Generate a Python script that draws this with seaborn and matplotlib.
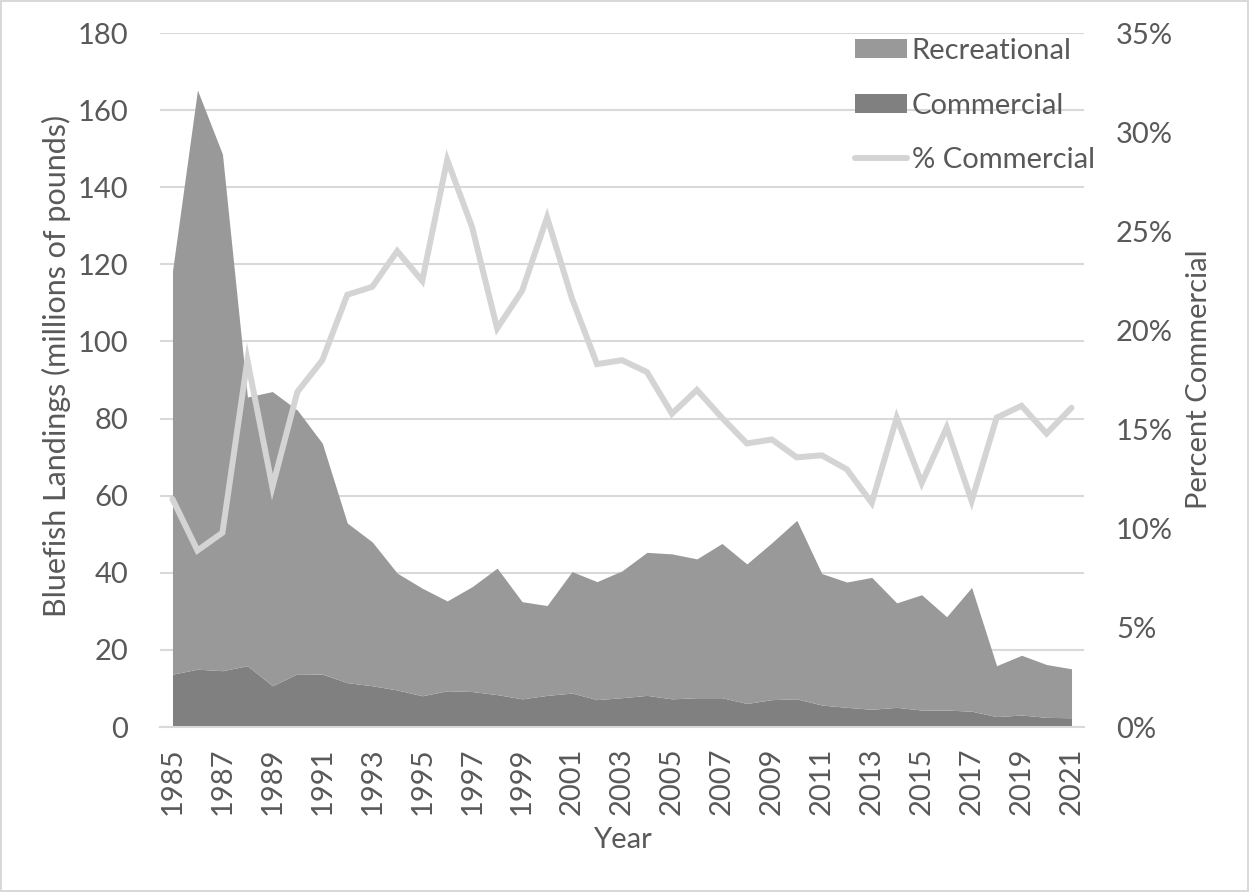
import matplotlib
matplotlib.use("Agg")
import matplotlib.pyplot as plt
import matplotlib.ticker as mticker
from matplotlib.patches import Patch
from matplotlib.lines import Line2D
import seaborn as sns
import pandas as pd

years = list(range(1985, 2022))
commercial = [13.7, 15.0, 14.6, 15.9, 10.7, 13.8, 13.7, 11.5, 10.7, 9.6,
              8.1, 9.4, 9.2, 8.4, 7.3, 8.2, 8.8, 7.1, 7.6, 8.2,
              7.3, 7.6, 7.6, 6.1, 7.1, 7.3, 5.7, 5.1, 4.6, 5.1,
              4.4, 4.4, 4.1, 2.7, 3.1, 2.5, 2.4]
recreational = [104.6, 150.2, 134.0, 69.7, 76.3, 68.4, 59.9, 41.4, 37.3, 30.3,
                27.9, 23.3, 27.2, 32.8, 25.2, 23.3, 31.5, 30.6, 32.9, 37.1,
                37.6, 36.0, 40.0, 36.2, 40.7, 46.3, 34.1, 32.5, 34.2, 27.1,
                29.9, 24.2, 32.1, 13.2, 15.5, 13.7, 12.7]
pct_commercial = [11.5, 8.9, 9.8, 18.5, 12.1, 16.9, 18.5, 21.8, 22.2, 24.0,
                  22.5, 28.6, 25.2, 20.1, 22.0, 25.7, 21.6, 18.3, 18.5, 17.9,
                  15.8, 17.0, 15.6, 14.3, 14.5, 13.6, 13.7, 13.0, 11.3, 15.6,
                  12.3, 15.1, 11.4, 15.6, 16.2, 14.8, 16.1]
year_labels = [str(y) for y in range(1985, 2022, 2)]
left_ticks = list(range(0, 181, 20))
right_ticks = list(range(0, 36, 5))

df = pd.DataFrame({"Year": years, "Commercial": commercial,
                   "Recreational": recreational, "Pct": pct_commercial})
df["Total"] = df["Commercial"] + df["Recreational"]

sns.set_style("white")
plt.rcParams["font.family"] = ["Lato", "DejaVu Sans"]
TXT = "#595959"
GRID = "#d9d9d9"
C_REC = "#999999"
C_COM = "#808080"
C_LINE = "#d4d4d4"
FS = 21

W, H = 1249, 892
fig = plt.figure(figsize=(W / 100, H / 100), dpi=100)
fig.patch.set_facecolor("white")
fig.patch.set_edgecolor(GRID)
fig.patch.set_linewidth(1.5)

L, R, T, B = 160, 1084, 33, 727
ax = fig.add_axes([L / W, 1 - B / H, (R - L) / W, (B - T) / H])

ax.fill_between(df["Year"], 0, df["Commercial"], color=C_COM, lw=0, zorder=2)
ax.fill_between(df["Year"], df["Commercial"], df["Total"], color=C_REC, lw=0, zorder=2)

ax.set_xlim(1984.5, 2021.5)
ax.set_ylim(0, 180)
ax.set_yticks(left_ticks)
ax.yaxis.grid(True, color=GRID, lw=1.5, zorder=0)
ax.set_axisbelow(True)
for s in ["top", "right", "left"]:
    ax.spines[s].set_visible(False)
ax.spines["bottom"].set_color(GRID)
ax.spines["bottom"].set_linewidth(1.5)
ax.spines["bottom"].set_zorder(3)

ax.set_xticks([int(y) for y in year_labels])
ax.set_xticklabels(year_labels, rotation=90)
ax.set_xticks([y + 0.5 for y in range(1984, 2022)], minor=True)
ax.tick_params(axis="x", which="major", length=0, pad=15, labelsize=FS, labelcolor=TXT)
ax.tick_params(axis="x", which="minor", length=8, width=1.5, color=GRID, direction="out")
ax.tick_params(axis="y", length=0, pad=23, labelsize=FS, labelcolor=TXT)
ax.set_xlabel("")
ax.set_ylabel("")

ax2 = ax.twinx()
sns.lineplot(x=df["Year"], y=df["Pct"], ax=ax2, color=C_LINE, lw=4.3,
             solid_joinstyle="miter", zorder=4, legend=False)
ax2.set_ylim(0, 35)
ax2.set_yticks(right_ticks)
ax2.yaxis.set_major_formatter(mticker.FuncFormatter(lambda v, p: f"{int(v)}%"))
ax2.tick_params(axis="y", length=0, pad=23, labelsize=FS, labelcolor=TXT)
for s in ax2.spines.values():
    s.set_visible(False)
ax2.set_xlabel("")
ax2.set_ylabel("")
ax2.grid(False)

# axis titles
fig.text(622 / W, 1 - 840 / H, "Year", fontsize=FS, color=TXT, ha="center", va="center")
fig.text(56 / W, 1 - 366 / H, "Bluefish Landings (millions of pounds)", fontsize=22,
         color=TXT, ha="center", va="center", rotation=90)
fig.text(1199 / W, 1 - 379 / H, "Percent Commercial", fontsize=FS, color=TXT,
         ha="center", va="center", rotation=90)

handles = [Patch(facecolor=C_REC, edgecolor="none", label="Recreational"),
           Patch(facecolor=C_COM, edgecolor="none", label="Commercial"),
           Line2D([0], [0], color=C_LINE, lw=4.3, solid_capstyle="round", label="% Commercial")]
leg = ax2.legend(handles=handles, loc="upper left",
                 bbox_to_anchor=(855 / W, 1 - 38 / H), bbox_transform=fig.transFigure,
                 frameon=False, fontsize=FS, handlelength=1.78, handleheight=0.62,
                 handletextpad=0.17, labelspacing=0.98, borderpad=0, borderaxespad=0)
for t in leg.get_texts():
    t.set_color(TXT)

fig.savefig("out.png", dpi=100, facecolor=fig.get_facecolor(), edgecolor=fig.get_edgecolor())
